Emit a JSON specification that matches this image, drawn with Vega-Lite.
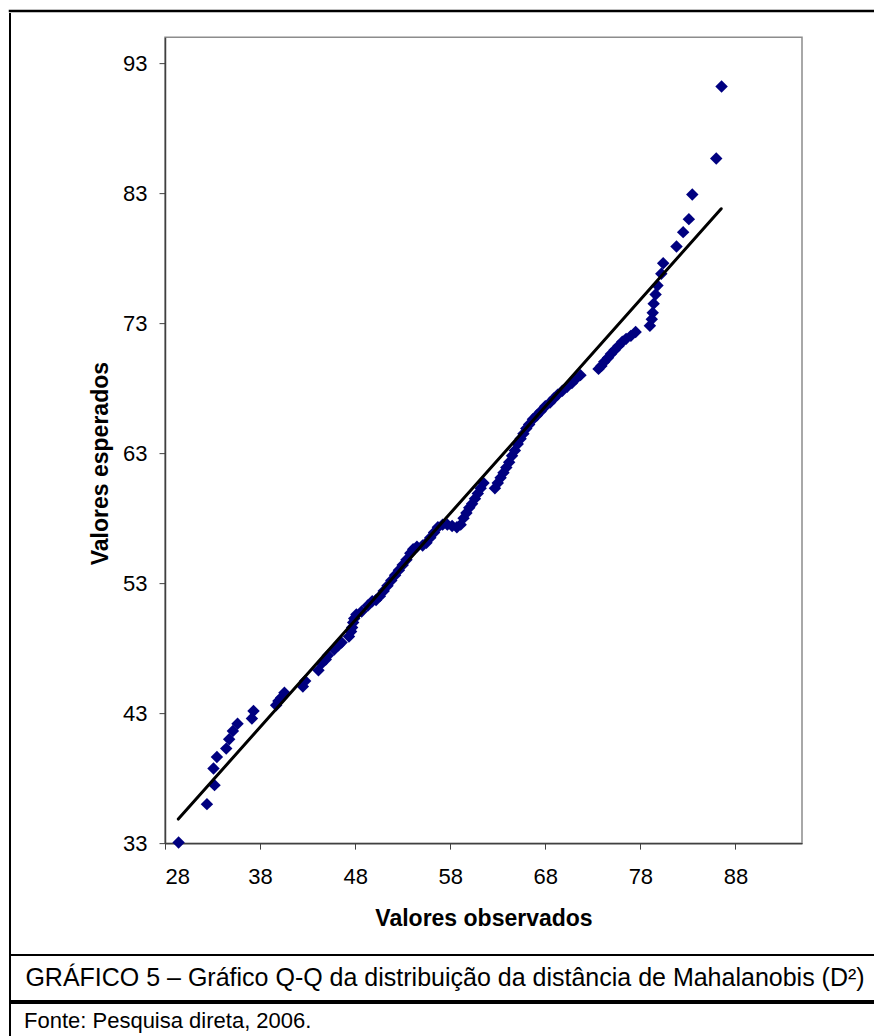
{
  "$schema": "https://vega.github.io/schema/vega-lite/v6.json",
  "background": "white",
  "padding": {"left": 8, "top": 9, "right": 0, "bottom": 0},
  "config": {
    "view": {"stroke": null},
    "font": "Liberation Sans",
    "axis": {"labelFont": "Liberation Sans", "titleFont": "Liberation Sans", "labelColor": "black", "titleColor": "black"}
  },
  "datasets": {
    "points": [
      {"obs": 29.43, "esp": 33.05}, {"obs": 32.41, "esp": 36.0}, {"obs": 33.21, "esp": 37.46}, {"obs": 33.1, "esp": 38.74},
      {"obs": 33.46, "esp": 39.63}, {"obs": 34.44, "esp": 40.27}, {"obs": 34.75, "esp": 40.99}, {"obs": 35.14, "esp": 41.63},
      {"obs": 35.63, "esp": 42.19}, {"obs": 37.14, "esp": 42.58}, {"obs": 37.31, "esp": 43.16}, {"obs": 39.69, "esp": 43.6},
      {"obs": 39.93, "esp": 43.93}, {"obs": 40.22, "esp": 44.19}, {"obs": 40.56, "esp": 44.57}, {"obs": 42.5, "esp": 45.04},
      {"obs": 42.74, "esp": 45.47}, {"obs": 44.14, "esp": 46.29}, {"obs": 44.47, "esp": 46.82}, {"obs": 44.91, "esp": 47.13},
      {"obs": 45.13, "esp": 47.44}, {"obs": 45.8, "esp": 47.9}, {"obs": 46.24, "esp": 48.21}, {"obs": 46.57, "esp": 48.44},
      {"obs": 47.35, "esp": 48.9}, {"obs": 47.57, "esp": 49.28}, {"obs": 47.68, "esp": 49.59}, {"obs": 47.79, "esp": 49.97},
      {"obs": 47.9, "esp": 50.28}, {"obs": 48.13, "esp": 50.59}, {"obs": 48.68, "esp": 50.82}, {"obs": 49.34, "esp": 51.28},
      {"obs": 49.8, "esp": 51.6}, {"obs": 50.2, "esp": 51.7}, {"obs": 50.6, "esp": 52.0}, {"obs": 51.0, "esp": 52.4},
      {"obs": 51.4, "esp": 52.8}, {"obs": 51.8, "esp": 53.2}, {"obs": 52.2, "esp": 53.6}, {"obs": 52.6, "esp": 54.0},
      {"obs": 53.0, "esp": 54.4}, {"obs": 53.4, "esp": 54.8}, {"obs": 53.8, "esp": 55.3}, {"obs": 54.1, "esp": 55.6},
      {"obs": 54.5, "esp": 55.8}, {"obs": 55.1, "esp": 55.9}, {"obs": 55.5, "esp": 56.1}, {"obs": 55.9, "esp": 56.5},
      {"obs": 56.3, "esp": 56.9}, {"obs": 56.7, "esp": 57.3}, {"obs": 57.2, "esp": 57.5}, {"obs": 57.7, "esp": 57.5},
      {"obs": 58.2, "esp": 57.4}, {"obs": 58.7, "esp": 57.3}, {"obs": 59.1, "esp": 57.5}, {"obs": 59.4, "esp": 58.0},
      {"obs": 59.7, "esp": 58.4}, {"obs": 60.0, "esp": 58.8}, {"obs": 60.3, "esp": 59.1}, {"obs": 60.6, "esp": 59.5},
      {"obs": 60.9, "esp": 59.9}, {"obs": 61.2, "esp": 60.3}, {"obs": 61.5, "esp": 60.7},
      {"obs": 62.7, "esp": 60.3}, {"obs": 63.0, "esp": 60.7}, {"obs": 63.3, "esp": 61.1}, {"obs": 63.6, "esp": 61.5},
      {"obs": 63.9, "esp": 61.9}, {"obs": 64.2, "esp": 62.3}, {"obs": 64.5, "esp": 62.8}, {"obs": 64.8, "esp": 63.2},
      {"obs": 65.1, "esp": 63.7}, {"obs": 65.4, "esp": 64.1}, {"obs": 65.7, "esp": 64.5}, {"obs": 66.0, "esp": 64.9},
      {"obs": 66.3, "esp": 65.2}, {"obs": 66.7, "esp": 65.6}, {"obs": 67.1, "esp": 65.9}, {"obs": 67.5, "esp": 66.2},
      {"obs": 68.0, "esp": 66.6}, {"obs": 68.5, "esp": 66.9}, {"obs": 68.9, "esp": 67.2},
      {"obs": 69.3, "esp": 67.5}, {"obs": 69.8, "esp": 67.8}, {"obs": 70.3, "esp": 68.1}, {"obs": 70.8, "esp": 68.4},
      {"obs": 71.2, "esp": 68.7}, {"obs": 71.7, "esp": 69.0}, {"obs": 73.6, "esp": 69.48},
      {"obs": 73.9, "esp": 69.71}, {"obs": 74.2, "esp": 70.02}, {"obs": 74.6, "esp": 70.33}, {"obs": 74.9, "esp": 70.63},
      {"obs": 75.3, "esp": 70.94}, {"obs": 75.7, "esp": 71.25}, {"obs": 76.1, "esp": 71.56}, {"obs": 76.5, "esp": 71.79},
      {"obs": 77.0, "esp": 72.02}, {"obs": 77.5, "esp": 72.32}, {"obs": 79.0, "esp": 72.8}, {"obs": 79.2, "esp": 73.3},
      {"obs": 79.3, "esp": 73.8}, {"obs": 79.4, "esp": 74.5}, {"obs": 79.6, "esp": 75.2}, {"obs": 79.8, "esp": 75.9},
      {"obs": 80.2, "esp": 76.8}, {"obs": 80.4, "esp": 77.6}, {"obs": 81.8, "esp": 78.9}, {"obs": 82.5, "esp": 80.0},
      {"obs": 83.1, "esp": 81.0}, {"obs": 83.46, "esp": 82.9}, {"obs": 85.98, "esp": 85.66}, {"obs": 86.54, "esp": 91.2}
    ],
    "fit": [{"obs": 29.4, "esp": 34.85}, {"obs": 86.5, "esp": 81.8}],
    "caption": [{"t": "GRÁFICO 5 – Gráfico Q-Q da distribuição da distância de Mahalanobis (D²)"}]
  },
  "spacing": 0,
  "vconcat": [
    {
      "width": 870, "height": 0.001,
      "view": {"stroke": "black", "strokeWidth": 2.5},
      "data": {"values": []},
      "mark": "point"
    },
    {
      "spacing": 76,
      "center": true,
      "hconcat": [
        {
          "width": 0.001, "height": 939,
          "view": {"stroke": "black", "strokeWidth": 2},
          "data": {"values": []},
          "mark": "point"
        },
        {
          "width": 637, "height": 806,
          "view": {"stroke": "#8c8c8c", "strokeWidth": 1.5},
          "layer": [
            {
              "data": {"name": "points"},
              "mark": {"type": "point", "shape": "diamond", "filled": true, "color": "#000080", "opacity": 1, "size": 155},
              "encoding": {
                "x": {"field": "obs", "type": "quantitative",
                  "scale": {"domain": [28, 95], "nice": false, "zero": false},
                  "axis": {"values": [28, 38, 48, 58, 68, 78, 88], "grid": false, "title": "Valores observados",
                    "titleFontSize": 23, "titleFontWeight": "bold", "labelFontSize": 22, "labelPadding": 17,
                    "titlePadding": 20, "tickSize": 6, "domainColor": "#404040", "tickColor": "#404040", "domainWidth": 1.5}},
                "y": {"field": "esp", "type": "quantitative",
                  "scale": {"domain": [33, 95], "nice": false, "zero": false},
                  "axis": {"values": [33, 43, 53, 63, 73, 83, 93], "grid": false, "title": "Valores esperados",
                    "titleFontSize": 23, "titleFontWeight": "bold", "labelFontSize": 22, "labelPadding": 12,
                    "titlePadding": 10, "titleY": 426, "tickSize": 6, "domainColor": "#404040", "tickColor": "#404040", "domainWidth": 1.5}}
              }
            },
            {
              "data": {"name": "fit"},
              "mark": {"type": "line", "color": "black", "strokeWidth": 3, "strokeCap": "round"},
              "encoding": {
                "x": {"field": "obs", "type": "quantitative"},
                "y": {"field": "esp", "type": "quantitative"}
              }
            }
          ]
        }
      ]
    },
    {
      "width": 870, "height": 46,
      "view": {"stroke": "black", "strokeWidth": 2},
      "data": {"name": "caption"},
      "mark": {"type": "text", "align": "center", "baseline": "middle", "fontSize": 25, "font": "Liberation Sans", "color": "black"},
      "encoding": {"text": {"field": "t"}}
    },
    {
      "width": 870, "height": 60,
      "view": {"stroke": "black", "strokeWidth": 2},
      "data": {"values": []},
      "mark": "point",
      "title": {"text": "Fonte: Pesquisa direta, 2006.", "orient": "top", "anchor": "start", "offset": -30, "dx": 14,
        "fontSize": 22, "fontWeight": "normal", "font": "Liberation Sans", "color": "black"}
    }
  ]
}
